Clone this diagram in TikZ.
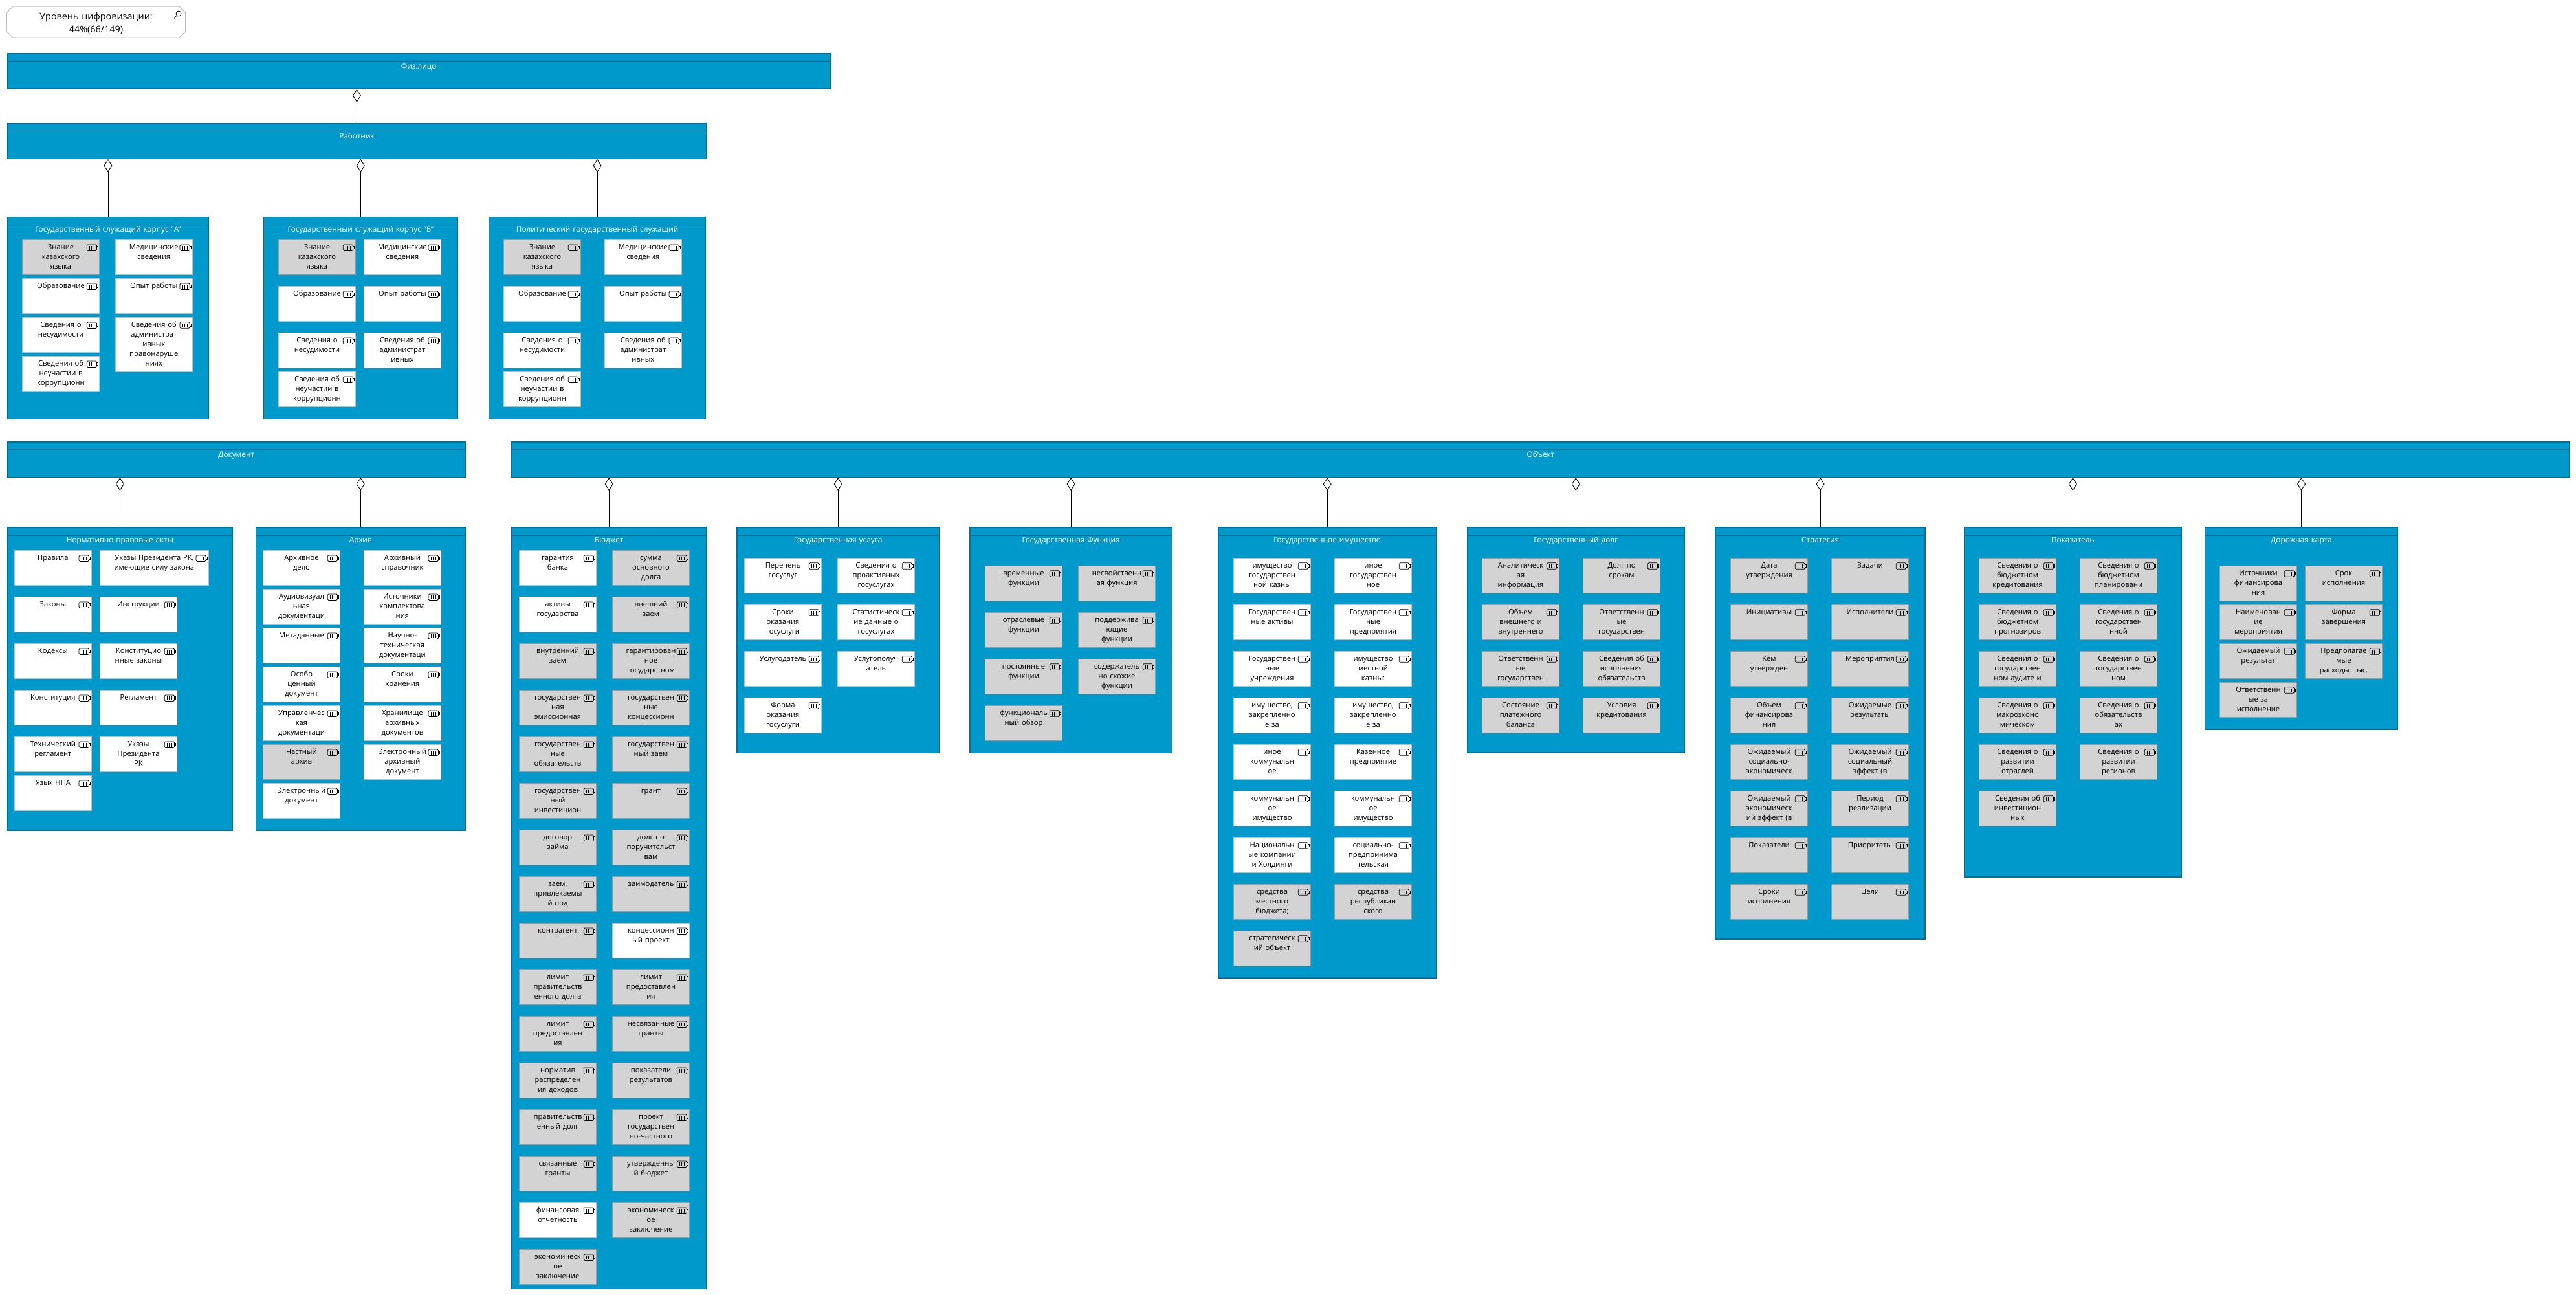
\documentclass[tikz,border=0pt]{standalone}
\usepackage{fontspec}
\setmainfont{Open Sans}
\usetikzlibrary{arrows.meta,shapes.misc}
\definecolor{bluemain}{HTML}{0099CC}
\definecolor{bluedark}{HTML}{00709A}
\definecolor{boxline}{HTML}{BDBDBD}
\definecolor{boxgray}{HTML}{D3D3D3}
\definecolor{boxgrayline}{HTML}{9A9A9A}
\begin{document}
\begin{tikzpicture}[x=1pt, y=-1pt,
    attr/.style = {draw=boxline, fill=white, line width=.6pt, inner sep=0pt, text width=59.5pt, text height=7.75pt, text depth=19.25pt, align=center, font=\fontsize{5.6}{7.5}\selectfont,
        path picture={
            \draw[black, line width=.4pt, rounded corners=.8pt] (path picture bounding box.north east) ++(-9.67,3.75) rectangle ++(7.67,4.75);
            \draw[black, line width=.4pt] (path picture bounding box.north east) ++(-2,5.1) -- ++(.9,0) -- ++(0,2) -- ++(-.9,0);
            \draw[black, line width=.4pt] (path picture bounding box.north east) ++(-7.67,4.6) -- ++(0,3.05);
            \draw[black, line width=.4pt] (path picture bounding box.north east) ++(-5.83,4.6) -- ++(0,3.05);
            \draw[black, line width=.4pt] (path picture bounding box.north east) ++(-4,4.6) -- ++(0,3.05);
        }},
    attrg/.style = {attr, draw=boxgrayline, fill=boxgray},
    panel/.style 2 args = {anchor=north west, draw=bluedark, fill=bluemain, line width=.7pt, inner sep=0pt, text width=#1pt, text height=11.7pt, text depth=#2pt-11.7pt, align=center, text=white, font=\fontsize{5.9}{7.5}\selectfont,
        path picture={\draw[bluedark, line width=.6pt] ([yshift=-5.9pt]path picture bounding box.north west) -- ([yshift=-5.9pt]path picture bounding box.north east);}},
    link/.style = {draw=black, line width=.45pt, -{Diamond[open, length=10pt, width=6.5pt]}},
    lens/.style = {chamfered rectangle, chamfered rectangle xsep=2.4pt, chamfered rectangle ysep=2.4pt, draw=boxline, line width=.5pt, inner sep=0pt, text height=7.6pt, text depth=11.6pt, text width=133.4pt, align=center, font=\fontsize{7.2}{10}\selectfont}]

    \useasboundingbox (0,0) rectangle (1990.5,1000.5);

    \node[lens] (lv) at (74.25,17.1) {Уровень цифровизации:\\44\%(66/149)};
    \draw[black, line width=.4pt] (138,10.5) circle (2pt) (136.6,11.9) -- (134.7,14.2);

    \node[panel={636}{27}] (fz) at (5.25,41.25) {Физ.лицо};
    \node[panel={540.25}{27.2}] (rb) at (5.25,95.1) {Работник};
    \node[panel={155.75}{156}] (pa) at (5.25,167.3) {Государственный служащий корпус "А"};
    \node[panel={149.75}{156}] (pb) at (203.45,167.3) {Государственный служащий корпус "Б"};
    \node[panel={167.6}{156}] (pp) at (377.4,167.3) {Политический государственный служащий};

    \node[panel={353.85}{27.2}] (dk) at (5.35,341.1) {Документ};
    \node[panel={174}{233.9}] (na) at (5.35,407.2) {Нормативно правовые акты};
    \node[panel={161.9}{233.9}] (ar) at (197.3,407.2) {Архив};

    \node[panel={1590.2}{27.2}] (ob) at (395,341.15) {Объект};
    \node[panel={150.2}{588.1}] (bj) at (395.15,407.2) {Бюджет};
    \node[panel={156.1}{174.2}] (us) at (569.2,407.2) {Государственная услуга};
    \node[panel={156.1}{174.2}] (fn) at (749.15,407.2) {Государственная Функция};
    \node[panel={168.2}{348}] (im) at (941.15,407.2) {Государственное имущество};
    \node[panel={168.05}{174}] (dl) at (1133.25,407.2) {Государственный долг};
    \node[panel={162}{318}] (st) at (1325.2,407.2) {Стратегия};
    \node[panel={167.9}{270}] (pk) at (1517.35,407.2) {Показатель};
    \node[panel={149.2}{156}] (dr) at (1703.3,407.2) {Дорожная карта};

    \begin{scope}[node distance=30pt]
    \node[attrg] (a1) at (47,198.7) {Знание\\казахского\\языка};
    \node[attr] (a2) [below of=a1] {Образование};
    \node[attr] (a3) [below of=a2] {Сведения о\\несудимости};
    \node[attr] (a4) [below of=a3] {Сведения об\\неучастии в\\коррупционн};
    \node[attr] (a5) [right of=a1, node distance=71.9pt] {Медицинские\\сведения};
    \node[attr] (a6) [below of=a5] {Опыт работы};
    \node[attr, text depth=34.25pt] (a7) [below of=a6, node distance=37.45pt] {Сведения об\\администрат\\ивных\\правонаруше\\ниях};
    \end{scope}

    \begin{scope}[node distance=36pt]
    \node[attrg] (b1) at (245,198.7) {Знание\\казахского\\языка};
    \node[attr] (b2) [below of=b1] {Образование};
    \node[attr] (b3) [below of=b2] {Сведения о\\несудимости};
    \node[attr] (b4) [below of=b3, node distance=30pt] {Сведения об\\неучастии в\\коррупционн};
    \node[attr] (b5) [right of=b1, node distance=65.95pt] {Медицинские\\сведения};
    \node[attr] (b6) [below of=b5] {Опыт работы};
    \node[attr] (b7) [below of=b6] {Сведения об\\администрат\\ивных};
    \end{scope}

    \begin{scope}[node distance=36pt]
    \node[attrg] (p1) at (419,198.7) {Знание\\казахского\\языка};
    \node[attr] (p2) [below of=p1] {Образование};
    \node[attr] (p3) [below of=p2] {Сведения о\\несудимости};
    \node[attr] (p4) [below of=p3, node distance=30pt] {Сведения об\\неучастии в\\коррупционн};
    \node[attr] (p5) [right of=p1, node distance=77.9pt] {Медицинские\\сведения};
    \node[attr] (p6) [below of=p5] {Опыт работы};
    \node[attr] (p7) [below of=p6] {Сведения об\\администрат\\ивных};
    \end{scope}

    \begin{scope}[node distance=36pt]
    \node[attr] (n1) at (40.95,438.7) {Правила};
    \node[attr] (n2) [below of=n1] {Законы};
    \node[attr] (n3) [below of=n2] {Кодексы};
    \node[attr] (n4) [below of=n3] {Конституция};
    \node[attr] (n5) [below of=n4] {Технический\\регламент};
    \node[attr] (n6) [below of=n5, node distance=30pt] {Язык НПА};
    \node[attr] (n8) [right of=n2, node distance=66.05pt] {Инструкции};
    \node[attr] (n9) [below of=n8] {Конституцио\\нные законы};
    \node[attr] (n10) [below of=n9] {Регламент};
    \node[attr] (n11) [below of=n10] {Указы\\Президента\\РК};
    \node[attr, text width=83.85pt] (n7) [above of=n8, xshift=12.2pt] {Указы Президента РК,\\имеющие силу закона};
    \end{scope}

    \begin{scope}[node distance=30pt]
    \node[attr] (r1) at (233,438.7) {Архивное\\дело};
    \node[attr] (r2) [below of=r1] {Аудиовизуал\\ьная\\документаци};
    \node[attr] (r3) [below of=r2] {Метаданные};
    \node[attr] (r4) [below of=r3] {Особо\\ценный\\документ};
    \node[attr] (r5) [below of=r4] {Управленчес\\кая\\документаци};
    \node[attrg] (r6) [below of=r5] {Частный\\архив};
    \node[attr] (r7) [below of=r6] {Электронный\\документ};
    \node[attr] (r8) [right of=r1, node distance=77.95pt] {Архивный\\справочник};
    \node[attr] (r9) [below of=r8] {Источники\\комплектова\\ния};
    \node[attr] (r10) [below of=r9] {Научно-\\техническая\\документаци};
    \node[attr] (r11) [below of=r10] {Сроки\\хранения};
    \node[attr] (r12) [below of=r11] {Хранилище\\архивных\\документов};
    \node[attr] (r13) [below of=r12] {Электронный\\архивный\\документ};
    \end{scope}

    \begin{scope}[node distance=36pt]
    \node[attr] (j1) at (431,438.7) {гарантия\\банка};
    \node[attr] (j2) [below of=j1] {активы\\государства};
    \node[attrg] (j3) [below of=j2] {внутренний\\заем};
    \node[attrg] (j4) [below of=j3] {государствен\\ная\\эмиссионная};
    \node[attrg] (j5) [below of=j4] {государствен\\ные\\обязательств};
    \node[attrg] (j6) [below of=j5] {государствен\\ный\\инвестицион};
    \node[attrg] (j7) [below of=j6] {договор\\займа};
    \node[attrg] (j8) [below of=j7] {заем,\\привлекаемы\\й под};
    \node[attrg] (j9) [below of=j8] {контрагент};
    \node[attrg] (j10) [below of=j9] {лимит\\правительств\\енного долга};
    \node[attrg] (j11) [below of=j10] {лимит\\предоставлен\\ия};
    \node[attrg] (j12) [below of=j11] {норматив\\распределен\\ия доходов};
    \node[attrg] (j13) [below of=j12] {правительств\\енный долг};
    \node[attrg] (j14) [below of=j13] {связанные\\гранты};
    \node[attr] (j15) [below of=j14] {финансовая\\отчетность};
    \node[attrg] (j16) [below of=j15] {экономическ\\ое\\заключение};
    \node[attrg] (j17) [right of=j1, node distance=72pt] {сумма\\основного\\долга};
    \node[attrg] (j18) [below of=j17] {внешний\\заем};
    \node[attrg] (j19) [below of=j18] {гарантирован\\ное\\государством};
    \node[attrg] (j20) [below of=j19] {государствен\\ные\\концессионн};
    \node[attrg] (j21) [below of=j20] {государствен\\ный заем};
    \node[attrg] (j22) [below of=j21] {грант};
    \node[attrg] (j23) [below of=j22] {долг по\\поручительст\\вам};
    \node[attrg] (j24) [below of=j23] {заимодатель};
    \node[attr] (j25) [below of=j24] {концессионн\\ый проект};
    \node[attrg] (j26) [below of=j25] {лимит\\предоставлен\\ия};
    \node[attrg] (j27) [below of=j26] {несвязанные\\гранты};
    \node[attrg] (j28) [below of=j27] {показатели\\результатов};
    \node[attrg] (j29) [below of=j28] {проект\\государствен\\но-частного};
    \node[attrg] (j30) [below of=j29] {утвержденны\\й бюджет};
    \node[attrg] (j31) [below of=j30] {экономическ\\ое\\заключение};
    \end{scope}

    \begin{scope}[node distance=36pt]
    \node[attr] (u1) at (605,444.65) {Перечень\\госуслуг};
    \node[attr] (u2) [below of=u1] {Сроки\\оказания\\госуслуги};
    \node[attr] (u3) [below of=u2] {Услугодатель};
    \node[attr] (u4) [below of=u3] {Форма\\оказания\\госуслуги};
    \node[attr] (u5) [right of=u1, node distance=72pt] {Сведения о\\проактивных\\госуслугах};
    \node[attr] (u6) [below of=u5] {Статистическ\\ие данные о\\госуслугах};
    \node[attr] (u7) [below of=u6] {Услугополуч\\атель};

    \node[attrg] (f1) at (791,450.65) {временные\\функции};
    \node[attrg] (f2) [below of=f1] {отраслевые\\функции};
    \node[attrg] (f3) [below of=f2] {постоянные\\функции};
    \node[attrg] (f4) [below of=f3] {функциональ\\ный обзор};
    \node[attrg] (f5) [right of=f1, node distance=72pt] {несвойственн\\ая функция};
    \node[attrg] (f6) [below of=f5] {поддержива\\ющие\\функции};
    \node[attrg] (f7) [below of=f6] {содержатель\\но схожие\\функции};

    \node[attr] (m1) at (983,444.65) {имущество\\государствен\\ной казны};
    \node[attr] (m2) [below of=m1] {Государствен\\ные активы};
    \node[attr] (m3) [below of=m2] {Государствен\\ные\\учреждения};
    \node[attr] (m4) [below of=m3] {имущество,\\закрепленно\\е за};
    \node[attr] (m5) [below of=m4] {иное\\коммунальн\\ое};
    \node[attr] (m6) [below of=m5] {коммунальн\\ое\\имущество};
    \node[attr] (m7) [below of=m6] {Национальн\\ые компании\\и Холдинги};
    \node[attrg] (m8) [below of=m7] {средства\\местного\\бюджета;};
    \node[attrg] (m9) [below of=m8] {стратегическ\\ий объект};
    \node[attr] (m10) [right of=m1, node distance=78pt] {иное\\государствен\\ное};
    \node[attr] (m11) [below of=m10] {Государствен\\ные\\предприятия};
    \node[attr] (m12) [below of=m11] {имущество\\местной\\казны:};
    \node[attr] (m13) [below of=m12] {имущество,\\закрепленно\\е за};
    \node[attr] (m14) [below of=m13] {Казенное\\предприятие};
    \node[attr] (m15) [below of=m14] {коммунальн\\ое\\имущество};
    \node[attr] (m16) [below of=m15] {социально-\\предпринима\\тельская};
    \node[attrg] (m17) [below of=m16] {средства\\республикан\\ского};

    \node[attrg] (l1) at (1175,444.65) {Аналитическ\\ая\\информация};
    \node[attrg] (l2) [below of=l1] {Объем\\внешнего и\\внутреннего};
    \node[attrg] (l3) [below of=l2] {Ответственн\\ые\\государствен};
    \node[attrg] (l4) [below of=l3] {Состояние\\платежного\\баланса};
    \node[attrg] (l5) [right of=l1, node distance=78pt] {Долг по\\срокам};
    \node[attrg] (l6) [below of=l5] {Ответственн\\ые\\государствен};
    \node[attrg] (l7) [below of=l6] {Сведения об\\исполнения\\обязательств};
    \node[attrg] (l8) [below of=l7] {Условия\\кредитования};

    \node[attrg] (s1) at (1367,444.65) {Дата\\утверждения};
    \node[attrg] (s2) [below of=s1] {Инициативы};
    \node[attrg] (s3) [below of=s2] {Кем\\утвержден};
    \node[attrg] (s4) [below of=s3] {Объем\\финансирова\\ния};
    \node[attrg] (s5) [below of=s4] {Ожидаемый\\социально-\\экономическ};
    \node[attrg] (s6) [below of=s5] {Ожидаемый\\экономическ\\ий эффект (в};
    \node[attrg] (s7) [below of=s6] {Показатели};
    \node[attrg] (s8) [below of=s7] {Сроки\\исполнения};
    \node[attrg] (s9) [right of=s1, node distance=78pt] {Задачи};
    \node[attrg] (s10) [below of=s9] {Исполнители};
    \node[attrg] (s11) [below of=s10] {Мероприятия};
    \node[attrg] (s12) [below of=s11] {Ожидаемые\\результаты};
    \node[attrg] (s13) [below of=s12] {Ожидаемый\\социальный\\эффект (в};
    \node[attrg] (s14) [below of=s13] {Период\\реализации};
    \node[attrg] (s15) [below of=s14] {Приоритеты};
    \node[attrg] (s16) [below of=s15] {Цели};

    \node[attrg] (k1) at (1559,444.65) {Сведения о\\бюджетном\\кредитования};
    \node[attrg] (k2) [below of=k1] {Сведения о\\бюджетном\\прогнозиров};
    \node[attrg] (k3) [below of=k2] {Сведения о\\государствен\\ном аудите и};
    \node[attrg] (k4) [below of=k3] {Сведения о\\макроэконо\\мическом};
    \node[attrg] (k5) [below of=k4] {Сведения о\\развитии\\отраслей};
    \node[attrg] (k6) [below of=k5] {Сведения об\\инвестицион\\ных};
    \node[attrg] (k7) [right of=k1, node distance=78pt] {Сведения о\\бюджетном\\планировани};
    \node[attrg] (k8) [below of=k7] {Сведения о\\государствен\\нной};
    \node[attrg] (k9) [below of=k8] {Сведения о\\государствен\\ном};
    \node[attrg] (k10) [below of=k9] {Сведения о\\обязательств\\ах};
    \node[attrg] (k11) [below of=k10] {Сведения о\\развитии\\регионов};
    \end{scope}

    \begin{scope}[node distance=30pt]
    \node[attrg] (c1) at (1745,450.65) {Источники\\финансирова\\ния};
    \node[attrg] (c2) [below of=c1] {Наименован\\ие\\мероприятия};
    \node[attrg] (c3) [below of=c2] {Ожидаемый\\результат};
    \node[attrg] (c4) [below of=c3] {Ответственн\\ые за\\исполнение};
    \node[attrg] (c5) [right of=c1, node distance=66pt] {Срок\\исполнения};
    \node[attrg] (c6) [below of=c5] {Форма\\завершения};
    \node[attrg] (c7) [below of=c6] {Предполагае\\мые\\расходы, тыс.};
    \end{scope}

    \draw[link] (rb.north) -- (rb.north |- fz.south);
    \draw[link] (pa.north) -- (pa.north |- rb.south);
    \draw[link] (pb.north) -- (pb.north |- rb.south);
    \draw[link] (pp.north) -- (pp.north |- rb.south);

    \draw[link] (na.north) -- (na.north |- dk.south);
    \draw[link] (ar.north) -- (ar.north |- dk.south);

    \draw[link] (bj.north) -- (bj.north |- ob.south);
    \draw[link] (us.north) -- (us.north |- ob.south);
    \draw[link] (fn.north) -- (fn.north |- ob.south);
    \draw[link] (im.north) -- (im.north |- ob.south);
    \draw[link] (dl.north) -- (dl.north |- ob.south);
    \draw[link] (st.north) -- (st.north |- ob.south);
    \draw[link] (pk.north) -- (pk.north |- ob.south);
    \draw[link] (dr.north) -- (dr.north |- ob.south);

\end{tikzpicture}
\end{document}
